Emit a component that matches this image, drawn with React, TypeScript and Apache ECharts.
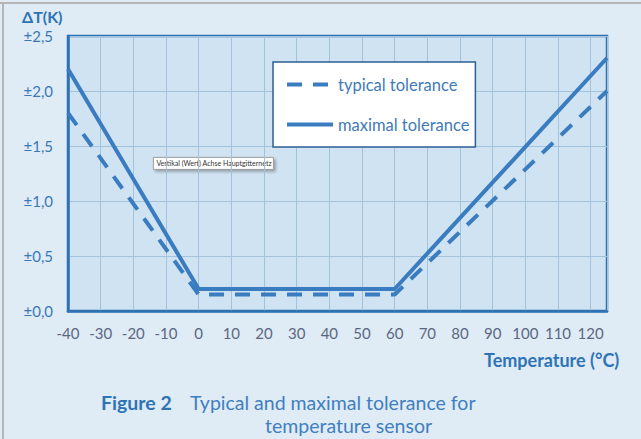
import React, { useEffect, useRef } from "react";
import * as echarts from "echarts";

const temps: number[] = [-40, 0, 60, 125];
const typicalTol: number[] = [1.8, 0.15, 0.15, 2.0];
const maximalTol: number[] = [2.2, 0.2, 0.2, 2.3];
const seriesNames: string[] = ["typical tolerance", "maximal tolerance"];

const FONT = "Lato, 'Open Sans', sans-serif";
const BLUE = "#3a7cc0";

export default function App() {
  const ref = useRef<HTMLDivElement>(null);
  useEffect(() => {
    if (!ref.current) return;
    const chart = echarts.init(ref.current, undefined, { renderer: "svg" });
    chart.setOption({
      animation: false,
      backgroundColor: "#dfebf5",
      textStyle: { fontFamily: FONT },
      grid: {
        left: 68,
        right: 34,
        top: 36,
        bottom: 128,
        show: true,
        backgroundColor: "#d0e3f2",
        borderColor: "#2f72b3",
        borderWidth: 2.5,
      },
      legend: {
        left: 273,
        top: 62,
        orient: "vertical",
        backgroundColor: "#ffffff",
        borderColor: "#2c5f95",
        borderWidth: 1.5,
        borderRadius: 0,
        padding: [14, 6, 14, 12],
        itemWidth: 46,
        itemHeight: 14,
        itemGap: 23,
        itemStyle: { opacity: 0 },
        lineStyle: { width: 4 },
        textStyle: { color: "#3f7ab8", fontSize: 16.5, fontFamily: FONT },
        data: seriesNames,
      },
      xAxis: {
        type: "value",
        min: -40,
        max: 125,
        interval: 10,
        axisLine: { show: true, onZero: false, lineStyle: { color: "#2f72b3", width: 2.5 } },
        axisTick: { show: false },
        axisLabel: {
          color: "#5b6782",
          fontSize: 15,
          margin: 14,
          showMaxLabel: false,
          formatter: (v: number) => (v > 120 ? "" : String(v)),
        },
        splitLine: { show: true, lineStyle: { color: "#a3c3dc", width: 1 } },
      },
      yAxis: {
        type: "value",
        min: 0,
        max: 2.5,
        interval: 0.5,
        axisLine: { show: true, onZero: false, lineStyle: { color: "#2f72b3", width: 2.5 } },
        axisTick: { show: false },
        axisLabel: {
          color: "#3a78b5",
          fontSize: 15,
          margin: 15,
          formatter: (v: number) => "±" + v.toFixed(1).replace(".", ","),
        },
        splitLine: { show: true, lineStyle: { color: "#a3c3dc", width: 1 } },
      },
      series: [
        {
          name: seriesNames[0],
          type: "line",
          symbol: "none",
          data: temps.map((t, i) => [t, typicalTol[i]]),
          lineStyle: { color: BLUE, width: 4, type: [15, 11], cap: "butt" },
          itemStyle: { color: BLUE },
          z: 3,
        },
        {
          name: seriesNames[1],
          type: "line",
          symbol: "none",
          data: temps.map((t, i) => [t, maximalTol[i]]),
          lineStyle: { color: BLUE, width: 4 },
          itemStyle: { color: BLUE },
          z: 4,
        },
      ],
      graphic: [
        { type: "line", shape: { x1: 0, y1: 3, x2: 641, y2: 3 }, style: { stroke: "#b5b5b5", lineWidth: 2 } },
        { type: "line", shape: { x1: 3, y1: 3, x2: 3, y2: 439 }, style: { stroke: "#b5b5b5", lineWidth: 2 } },
        {
          type: "text",
          left: 22,
          top: 8,
          style: { text: "ΔT(K)", fill: "#2e74b5", font: `bold 16px ${FONT}` },
        },
        {
          type: "text",
          left: 484,
          top: 351,
          style: { text: "Temperature (°C)", fill: "#2e74b5", font: `bold 18px ${FONT}` },
        },
        {
          type: "group",
          left: 153,
          top: 157,
          children: [
            {
              type: "rect",
              shape: { x: 0, y: 0, width: 120, height: 12 },
              style: {
                fill: "#ffffff",
                stroke: "#8a8a8a",
                lineWidth: 0.8,
                shadowBlur: 3,
                shadowOffsetX: 2,
                shadowOffsetY: 2,
                shadowColor: "rgba(0,0,0,0.3)",
              },
            },
            {
              type: "text",
              x: 3,
              y: 2.5,
              style: { text: "Vertikal (Wert) Achse Hauptgitternetz", fill: "#333333", font: `7px ${FONT}` },
            },
          ],
        },
        {
          type: "text",
          left: 101,
          top: 392,
          style: { text: "Figure 2", fill: "#2e74b5", font: `bold 19.5px ${FONT}` },
        },
        {
          type: "text",
          left: 190,
          top: 392,
          style: { text: "Typical and maximal tolerance for", fill: "#3f7fbf", font: `19.5px ${FONT}` },
        },
        {
          type: "text",
          left: 265,
          top: 415,
          style: { text: "temperature sensor", fill: "#3f7fbf", font: `19.5px ${FONT}` },
        },
      ],
    });
    return () => chart.dispose();
  }, []);
  return (
    <div
      ref={ref}
      style={{ position: "absolute", left: 0, top: 0, width: 641, height: 439 }}
    />
  );
}
